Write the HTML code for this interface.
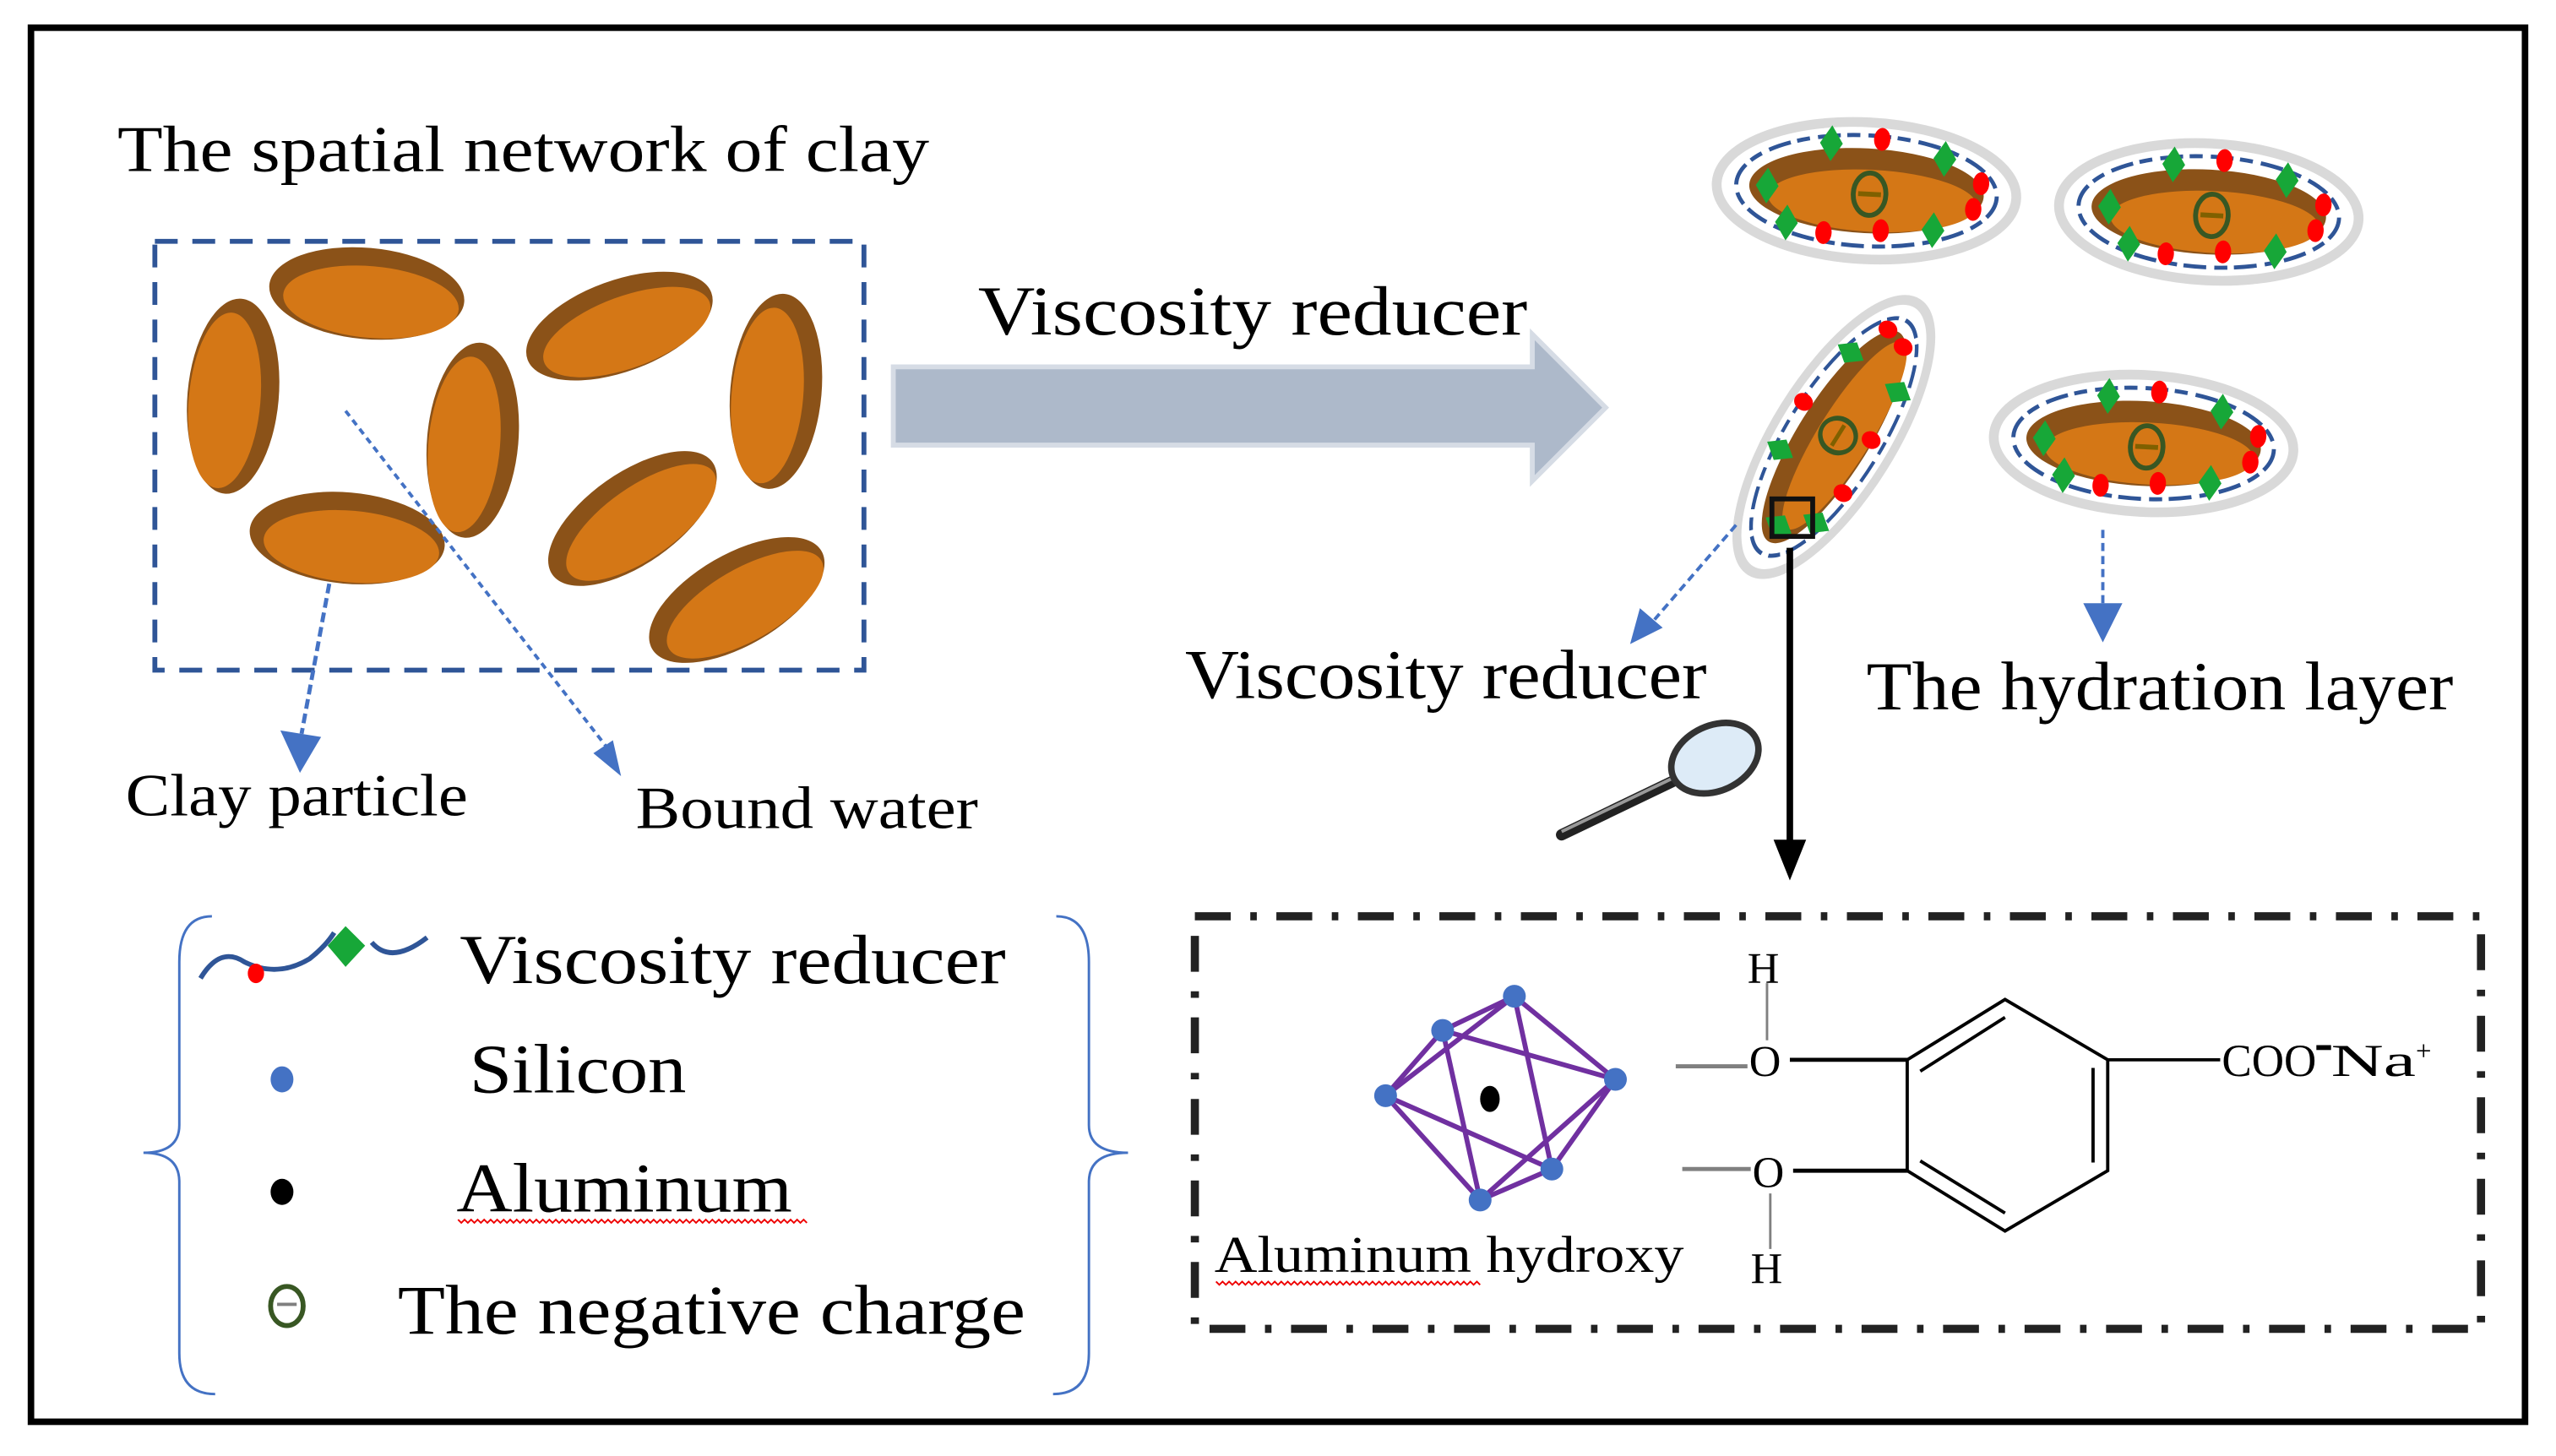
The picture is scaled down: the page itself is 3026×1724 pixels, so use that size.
<!DOCTYPE html>
<html><head><meta charset="utf-8"><style>
html,body{margin:0;padding:0;background:#fff;}
svg{display:block;}
text{font-family:"Liberation Serif",serif;fill:#000;}
</style></head><body>
<svg width="3026" height="1724" viewBox="0 0 1568 893" preserveAspectRatio="none" xmlns="http://www.w3.org/2000/svg">
<defs>
<g id="clay">
  <ellipse cx="0" cy="0" rx="60" ry="28" fill="#8B5218"/>
  <ellipse cx="3" cy="5" rx="54" ry="22" fill="#D47716"/>
</g>
<g id="hyd">
  <ellipse cx="0" cy="0" rx="92" ry="42" fill="#fff" stroke="#D9D9D9" stroke-width="6"/>
  <ellipse cx="0" cy="0" rx="80" ry="34" fill="none" stroke="#2F5597" stroke-width="2.5" stroke-dasharray="14 4 8 5"/>
  <ellipse cx="0" cy="0" rx="72" ry="26" fill="#8B5218"/>
  <ellipse cx="4" cy="6" rx="64" ry="19" fill="#D47716"/>
  <ellipse cx="2" cy="2" rx="10" ry="13" fill="none" stroke="#385723" stroke-width="3"/>
  <line x1="-5" y1="2" x2="9" y2="2" stroke="#7F6000" stroke-width="3"/>
  <g fill="#17A738">
    <path d="M-68 0 l7 -11 l7 11 l-7 11z"/>
    <path d="M-30 -28 l7 -11 l7 11 l-7 11z"/>
    <path d="M40 -22 l7 -11 l7 11 l-7 11z"/>
    <path d="M-55 22 l7 -11 l7 11 l-7 11z"/>
    <path d="M35 22 l7 -11 l7 11 l-7 11z"/>
  </g>
  <g fill="#FF0000">
    <ellipse cx="8" cy="-32" rx="5" ry="7"/>
    <ellipse cx="70" cy="-8" rx="5" ry="7"/>
    <ellipse cx="66" cy="8" rx="5" ry="7"/>
    <ellipse cx="-25" cy="27" rx="5" ry="7"/>
    <ellipse cx="10" cy="24" rx="5" ry="7"/>
  </g>
</g>
</defs>

<rect x="19" y="17" width="1530" height="855" fill="none" stroke="#000" stroke-width="4"/>

<text x="72" y="105" font-size="40" textLength="498" lengthAdjust="spacingAndGlyphs">The spatial network of clay</text>

<rect x="95" y="148" width="435" height="263" fill="none" stroke="#2F5597" stroke-width="3" stroke-dasharray="14 9"/>

<use href="#clay" transform="translate(225,180) rotate(5)"/>
<use href="#clay" transform="translate(143,243) rotate(95)"/>
<use href="#clay" transform="translate(213,330) rotate(5)"/>
<use href="#clay" transform="translate(290,270) rotate(95)"/>
<use href="#clay" transform="translate(380,200) rotate(-20)"/>
<use href="#clay" transform="translate(476,240) rotate(95)"/>
<use href="#clay" transform="translate(388,318) rotate(-35)"/>
<use href="#clay" transform="translate(452,368) rotate(-30)"/>

<line x1="212" y1="252" x2="372" y2="458" stroke="#4472C4" stroke-width="2" stroke-dasharray="4 3"/>
<path d="M364 462 l17 14 l-5 -22z" fill="#4472C4"/>
<line x1="202" y1="358" x2="185" y2="450" stroke="#4472C4" stroke-width="2.5" stroke-dasharray="6 3"/>
<path d="M172 448 l12 26 l13 -22z" fill="#4472C4"/>

<text x="77" y="500" font-size="37" textLength="210" lengthAdjust="spacingAndGlyphs">Clay particle</text>
<text x="390" y="508" font-size="37" textLength="210" lengthAdjust="spacingAndGlyphs">Bound water</text>

<path d="M548 225 L940 225 L940 205 L985 250 L940 295 L940 273 L548 273 Z" fill="#ADB9CA" stroke="#D6DCE5" stroke-width="3"/>
<text x="600" y="205" font-size="43" textLength="337" lengthAdjust="spacingAndGlyphs">Viscosity reducer</text>

<use href="#hyd" transform="translate(1145,117) rotate(3)"/>
<use href="#hyd" transform="translate(1355,130) rotate(3)"/>
<use href="#hyd" transform="translate(1315,272) rotate(3)"/>
<use href="#hyd" transform="translate(1125,268) rotate(-58) scale(1.05,0.85)"/>
<rect x="1087" y="306" width="25" height="23" fill="none" stroke="#111" stroke-width="3"/>

<line x1="1065" y1="322" x2="1015" y2="380" stroke="#4472C4" stroke-width="2" stroke-dasharray="5 3"/>
<path d="M1000 395 l6 -22 l14 12z" fill="#4472C4"/>
<text x="727" y="428" font-size="43" textLength="320" lengthAdjust="spacingAndGlyphs">Viscosity reducer</text>

<line x1="1290" y1="325" x2="1290" y2="372" stroke="#4472C4" stroke-width="2" stroke-dasharray="5 3"/>
<path d="M1278 370 l12 24 l12 -24z" fill="#4472C4"/>
<text x="1145" y="435" font-size="42" textLength="360" lengthAdjust="spacingAndGlyphs">The hydration layer</text>

<line x1="1098" y1="336" x2="1098" y2="520" stroke="#000" stroke-width="4"/>
<path d="M1088 515 l10 25 l10 -25z" fill="#000"/>

<line x1="958" y1="512" x2="1035" y2="475" stroke="#222" stroke-width="7" stroke-linecap="round"/>
<line x1="958" y1="510" x2="1033" y2="474" stroke="#999" stroke-width="2"/>
<ellipse cx="1052" cy="465" rx="28" ry="20" transform="rotate(-25 1052 465)" fill="#DDEBF7" stroke="#333" stroke-width="4"/>

<path d="M130 562 Q110 562 110 590 L110 690 Q110 707 88 707 Q110 707 110 725 L110 830 Q110 855 132 855" fill="none" stroke="#4472C4" stroke-width="1.5"/>
<path d="M648 562 Q668 562 668 590 L668 690 Q668 707 692 707 Q668 707 668 725 L668 830 Q668 855 646 855" fill="none" stroke="#4472C4" stroke-width="1.5"/>

<path d="M123 600 Q135 580 150 590 Q170 600 190 588 Q200 580 205 572 M228 578 Q240 592 262 575" fill="none" stroke="#2F5597" stroke-width="3"/>
<path d="M212 568 l12 12 l-12 13 l-11 -13z" fill="#17A738"/>
<ellipse cx="157" cy="597" rx="5" ry="6" fill="#FF0000"/>
<text x="282" y="603" font-size="43" textLength="335" lengthAdjust="spacingAndGlyphs">Viscosity reducer</text>

<ellipse cx="173" cy="662" rx="7" ry="8" fill="#4472C4"/>
<text x="288" y="670" font-size="43" textLength="133" lengthAdjust="spacingAndGlyphs">Silicon</text>

<ellipse cx="173" cy="731" rx="7" ry="8" fill="#000"/>
<text x="280" y="743" font-size="43" textLength="206" lengthAdjust="spacingAndGlyphs">Aluminum</text>
<path d="M281 748 l2 2 l2 -2 l2 2 l2 -2 l2 2 l2 -2 l2 2 l2 -2 l2 2 l2 -2 l2 2 l2 -2 l2 2 l2 -2 l2 2 l2 -2 l2 2 l2 -2 l2 2 l2 -2 l2 2 l2 -2 l2 2 l2 -2 l2 2 l2 -2 l2 2 l2 -2 l2 2 l2 -2 l2 2 l2 -2 l2 2 l2 -2 l2 2 l2 -2 l2 2 l2 -2 l2 2 l2 -2 l2 2 l2 -2 l2 2 l2 -2 l2 2 l2 -2 l2 2 l2 -2 l2 2 l2 -2 l2 2 l2 -2 l2 2 l2 -2 l2 2 l2 -2 l2 2 l2 -2 l2 2 l2 -2 l2 2 l2 -2 l2 2 l2 -2 l2 2 l2 -2 l2 2 l2 -2 l2 2 l2 -2 l2 2 l2 -2 l2 2 l2 -2 l2 2 l2 -2 l2 2 l2 -2 l2 2 l2 -2 l2 2 l2 -2 l2 2 l2 -2 l2 2 l2 -2 l2 2 l2 -2 l2 2 l2 -2 l2 2 l2 -2 l2 2 l2 -2 l2 2 l2 -2 l2 2 l2 -2 l2 2 l2 -2 l2 2 l2 -2 l2 2 l2 -2 l2 2 l2 -2 l2 2" fill="none" stroke="#E00" stroke-width="1"/>

<ellipse cx="176" cy="801" rx="10" ry="12" fill="none" stroke="#385723" stroke-width="3"/>
<line x1="170" y1="800" x2="182" y2="800" stroke="#7F7F7F" stroke-width="2"/>
<text x="244" y="818" font-size="43" textLength="385" lengthAdjust="spacingAndGlyphs">The negative charge</text>

<rect x="733" y="562" width="789" height="253" fill="none" stroke="#222" stroke-width="5" stroke-dasharray="22 12 4 12"/>

<g stroke="#7030A0" stroke-width="3" fill="none">
  <line x1="929" y1="611" x2="885" y2="632"/>
  <line x1="929" y1="611" x2="850" y2="672"/>
  <line x1="929" y1="611" x2="991" y2="662"/>
  <line x1="929" y1="611" x2="952" y2="717"/>
  <line x1="885" y1="632" x2="991" y2="662"/>
  <line x1="885" y1="632" x2="850" y2="672"/>
  <line x1="885" y1="632" x2="908" y2="736"/>
  <line x1="850" y1="672" x2="952" y2="717"/>
  <line x1="850" y1="672" x2="908" y2="736"/>
  <line x1="991" y1="662" x2="952" y2="717"/>
  <line x1="991" y1="662" x2="908" y2="736"/>
  <line x1="952" y1="717" x2="908" y2="736"/>
</g>
<g fill="#4472C4">
  <circle cx="929" cy="611" r="7"/><circle cx="885" cy="632" r="7"/><circle cx="850" cy="672" r="7"/>
  <circle cx="991" cy="662" r="7"/><circle cx="952" cy="717" r="7"/><circle cx="908" cy="736" r="7"/>
</g>
<ellipse cx="914" cy="674" rx="6" ry="8" fill="#000"/>

<text x="745" y="780" font-size="32" textLength="288" lengthAdjust="spacingAndGlyphs">Aluminum hydroxy</text>
<path d="M746 786 l2 2 l2 -2 l2 2 l2 -2 l2 2 l2 -2 l2 2 l2 -2 l2 2 l2 -2 l2 2 l2 -2 l2 2 l2 -2 l2 2 l2 -2 l2 2 l2 -2 l2 2 l2 -2 l2 2 l2 -2 l2 2 l2 -2 l2 2 l2 -2 l2 2 l2 -2 l2 2 l2 -2 l2 2 l2 -2 l2 2 l2 -2 l2 2 l2 -2 l2 2 l2 -2 l2 2 l2 -2 l2 2 l2 -2 l2 2 l2 -2 l2 2 l2 -2 l2 2 l2 -2 l2 2 l2 -2 l2 2 l2 -2 l2 2 l2 -2 l2 2 l2 -2 l2 2 l2 -2 l2 2 l2 -2 l2 2 l2 -2 l2 2 l2 -2 l2 2 l2 -2 l2 2 l2 -2 l2 2 l2 -2 l2 2 l2 -2 l2 2 l2 -2 l2 2 l2 -2 l2 2 l2 -2 l2 2 l2 -2 l2 2" fill="none" stroke="#E00" stroke-width="1"/>

<line x1="1028" y1="654" x2="1072" y2="654" stroke="#808080" stroke-width="2.5"/>
<line x1="1032" y1="717" x2="1074" y2="717" stroke="#808080" stroke-width="2.5"/>
<line x1="1084" y1="603" x2="1084" y2="638" stroke="#808080" stroke-width="1.5"/>
<line x1="1086" y1="732" x2="1086" y2="766" stroke="#808080" stroke-width="1.5"/>
<text x="1072" y="603" font-size="27">H</text>
<text x="1073" y="660" font-size="27">O</text>
<text x="1075" y="728" font-size="27">O</text>
<text x="1074" y="787" font-size="27">H</text>
<line x1="1098" y1="650" x2="1170" y2="650" stroke="#000" stroke-width="2.5"/>
<line x1="1100" y1="718" x2="1170" y2="718" stroke="#000" stroke-width="2.5"/>
<g stroke="#000" stroke-width="2" fill="none">
  <path d="M1170 650 L1230 613 L1293 650 L1293 718 L1230 755 L1170 718 Z"/>
  <line x1="1178" y1="657" x2="1230" y2="624"/>
  <line x1="1284" y1="655" x2="1284" y2="713"/>
  <line x1="1178" y1="712" x2="1230" y2="744"/>
  <line x1="1293" y1="650" x2="1362" y2="650"/>
</g>
<text x="1363" y="660" font-size="28" textLength="58" lengthAdjust="spacingAndGlyphs">COO</text>
<rect x="1421" y="641" width="9" height="3" fill="#000"/>
<text x="1430" y="660" font-size="28" textLength="52" lengthAdjust="spacingAndGlyphs">Na</text>
<text x="1482" y="650" font-size="17">+</text>
</svg>
</body></html>
